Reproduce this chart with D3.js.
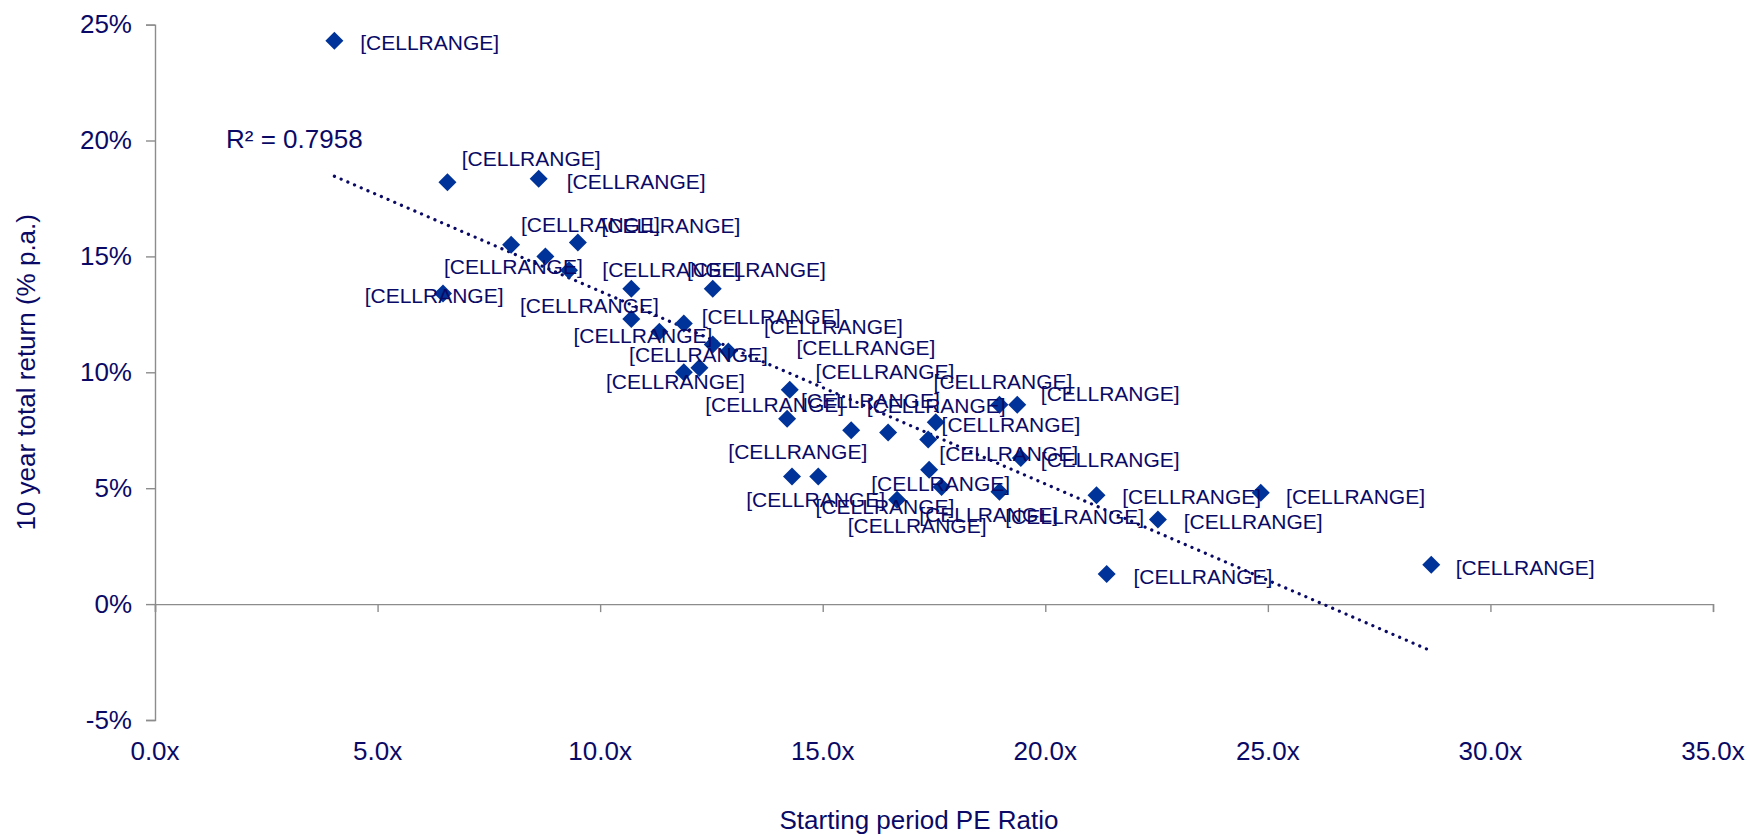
<!DOCTYPE html>
<html>
<head>
<meta charset="utf-8">
<script src="https://cdn.jsdelivr.net/npm/d3@7"></script>
<style>
  html, body { margin: 0; padding: 0; background: #ffffff; }
  svg { display: block; }
  text { font-family: "Liberation Sans", Arial, sans-serif; }
</style>
</head>
<body>
<svg id="chart" width="1750" height="835"></svg>
<script>
// ---- data ----
const peRatio = [4.03, 6.57, 8.62, 8.0, 8.77, 9.5, 9.3, 6.47, 10.7, 12.53, 10.7, 11.33, 11.88, 12.53, 12.88, 11.88, 12.23, 14.26, 14.2, 15.64, 16.47, 17.54, 17.37, 18.97, 19.37, 19.45, 17.39, 17.67, 14.31, 14.9, 16.67, 18.97, 21.15, 24.84, 22.53, 21.38, 28.67];
const tenYearReturn = [24.3, 18.2, 18.35, 15.5, 15.0, 15.6, 14.4, 13.4, 13.6, 13.6, 12.3, 11.75, 12.1, 11.2, 10.9, 10.0, 10.2, 9.25, 8.0, 7.5, 7.4, 7.85, 7.1, 8.6, 8.6, 6.3, 5.8, 5.05, 5.5, 5.5, 4.5, 4.85, 4.7, 4.8, 3.65, 1.3, 1.7];
const pointLabels = peRatio.map(() => "[CELLRANGE]");
// where each (manually moved) data label sits, in data units: PE ratio / return
const labelAnchorPE = [4.61, 6.89, 9.25, 8.22, 6.49, 10.03, 8.20, 4.71, 10.05, 11.95, 9.40, 10.65, 12.28, 13.68, 14.41, 10.13, 12.36, 14.51, 12.88, 15.99, 14.84, 17.67, 17.62, 17.49, 19.90, 19.90, 16.09, 17.17, 13.28, 14.84, 15.56, 19.10, 21.73, 25.41, 23.11, 21.98, 29.22];
const labelAnchorReturn = [24.28, 19.27, 18.30, 16.43, 14.64, 16.38, 12.96, 13.39, 14.50, 14.50, 11.66, 10.84, 12.48, 12.04, 11.13, 9.68, 8.67, 8.86, 6.65, 8.62, 10.12, 7.80, 6.55, 9.68, 9.15, 6.31, 5.25, 3.95, 4.58, 4.29, 3.47, 3.85, 4.72, 4.72, 3.61, 1.25, 1.64];
const xTicks = [0, 5, 10, 15, 20, 25, 30, 35];
const yTicks = [-5, 0, 5, 10, 15, 20, 25];
const rSquaredText = "R² = 0.7958";
const xTitle = "Starting period PE Ratio";
const yTitle = "10 year total return (% p.a.)";

// ---- layout ----
const svg = d3.select("#chart");
const textColor = "#0a0a66";
const markerColor = "#003399";
const axisColor = "#8c8c8c";

const x = d3.scaleLinear().domain([0, 35]).range([155, 1713]);
const y = d3.scaleLinear().domain([-5, 25]).range([720, 24.6]);

// axes
const yAxis = d3.axisLeft(y).tickValues(yTicks).tickSize(9).tickPadding(14)
  .tickFormat(d => d + "%");
const gy = svg.append("g").attr("transform", `translate(${x(0)},0)`).call(yAxis);
gy.select(".domain").attr("stroke", axisColor).attr("stroke-width", 1.4);
gy.selectAll(".tick line").attr("stroke", axisColor).attr("stroke-width", 1.4);
gy.selectAll(".tick text").attr("fill", textColor).attr("font-size", 26)
  .attr("font-family", "Liberation Sans, Arial, sans-serif");

const xAxis = d3.axisBottom(x).tickValues(xTicks).tickSize(8).tickFormat(d => d3.format(".1f")(d) + "x");
const gx = svg.append("g").attr("transform", `translate(0,${y(0)})`).call(xAxis);
gx.select(".domain").attr("stroke", axisColor).attr("stroke-width", 1.4);
gx.selectAll(".tick line").attr("stroke", axisColor).attr("stroke-width", 1.4);
gx.selectAll(".tick text").remove();
// x tick labels sit below the plot area (at the bottom of the axis range)
svg.append("g").selectAll("text").data(xTicks).join("text")
  .attr("x", d => x(d)).attr("y", y(-5) + 40)
  .attr("text-anchor", "middle").attr("fill", textColor).attr("font-size", 26)
  .text(d => d3.format(".1f")(d) + "x");

// linear trendline computed from the data
const n = peRatio.length;
const mx = d3.mean(peRatio), my = d3.mean(tenYearReturn);
let sxy = 0, sxx = 0;
for (let i = 0; i < n; i++) { sxy += (peRatio[i] - mx) * (tenYearReturn[i] - my); sxx += (peRatio[i] - mx) ** 2; }
const slope = sxy / sxx, intercept = my - slope * mx;
const xMin = d3.min(peRatio), xMax = d3.max(peRatio);
svg.append("line")
  .attr("x1", x(xMin)).attr("y1", y(intercept + slope * xMin))
  .attr("x2", x(xMax)).attr("y2", y(intercept + slope * xMax))
  .attr("stroke", textColor).attr("stroke-width", 3.2)
  .attr("stroke-dasharray", "0.1 7.2").attr("stroke-linecap", "round");

// markers (square diamonds)
const h = 9;
svg.append("g").selectAll("path").data(peRatio).join("path")
  .attr("d", `M0,${-h}L${h},0L0,${h}L${-h},0Z`)
  .attr("transform", (d, i) => `translate(${x(d)},${y(tenYearReturn[i])})`)
  .attr("fill", markerColor);

// data labels
svg.append("g").selectAll("text").data(pointLabels).join("text")
  .attr("x", (d, i) => x(labelAnchorPE[i]))
  .attr("y", (d, i) => y(labelAnchorReturn[i]) + 1.5)
  .attr("dy", "0.36em")
  .attr("fill", textColor).attr("font-size", 21)
  .text(d => d);

// R squared
svg.append("text").attr("x", 226).attr("y", 148)
  .attr("fill", textColor).attr("font-size", 26).text(rSquaredText);

// axis titles
svg.append("text").attr("x", 919).attr("y", 829).attr("text-anchor", "middle")
  .attr("fill", textColor).attr("font-size", 26).text(xTitle);
svg.append("text").attr("transform", `translate(35,${(y(-5) + y(25)) / 2}) rotate(-90)`)
  .attr("text-anchor", "middle").attr("fill", textColor).attr("font-size", 26).text(yTitle);
</script>
</body>
</html>
